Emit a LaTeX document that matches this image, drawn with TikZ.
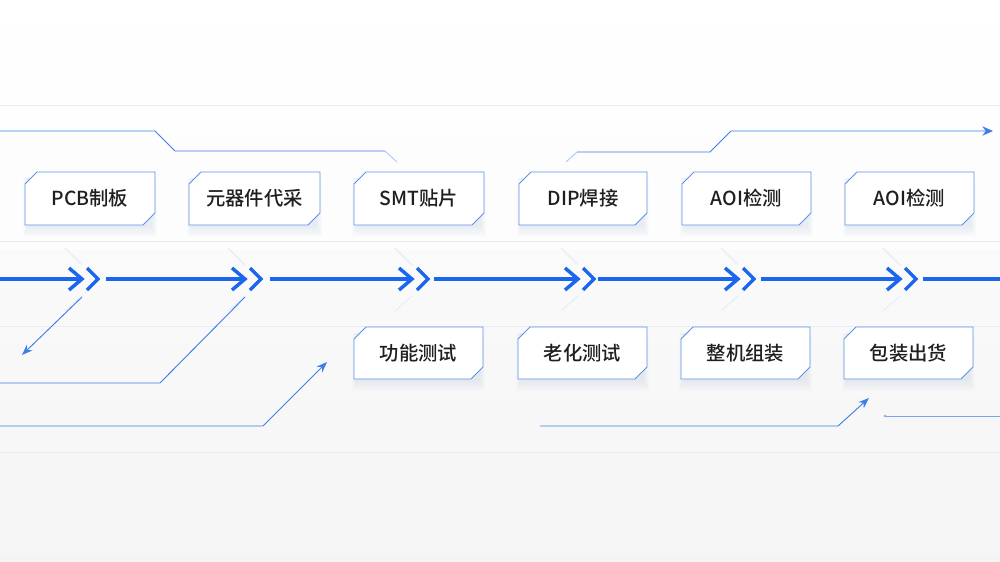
\documentclass[tikz,border=0pt]{standalone}
\usepackage{fontspec}
\setmainfont{Noto Sans CJK SC}[BoldFont={Noto Sans CJK SC Medium}]
\usetikzlibrary{arrows.meta}
\definecolor{mainblue}{HTML}{1A66EE}
\definecolor{lineblue}{HTML}{3D7FE6}
\definecolor{faint}{HTML}{E8EDF4}
\definecolor{shadowc}{HTML}{B8C6DE}
\begin{document}
\begin{tikzpicture}[x=0.75pt,y=-0.75pt,
  box/.style={draw=lineblue!85,line width=0.6pt,fill=white},
  lbl/.style={font=\fontsize{14.5pt}{16pt}\selectfont\bfseries,text=black!88},
  thin/.style={draw=lineblue,line width=0.7pt},
  main/.style={draw=mainblue,line width=2.6pt},
  tip/.style={draw=mainblue,line width=2.6pt,line join=miter,line cap=butt},
  fl/.style={draw=faint,line width=0.6pt}]
\useasboundingbox (0,0) rectangle (1000,561);
\shade[top color=white,bottom color=blue!4!gray!8] (0,0) rectangle (1000,561);
\fill[white,opacity=0.6] (0,0) rectangle (1000,250);
% faint guide lines
\foreach \y in {105,241,326,452} \draw[fl] (0,\y) -- (1000,\y);
% boxes
\foreach \n/\a/\b/\c/\d/\t in {
  b1/25/172/155/225/PCB制板, b2/189/172/320/225/元器件代采, b3/354/172/484/225/SMT贴片,
  b4/519/172/647/225/DIP焊接, b5/682/172/811/225/AOI检测, b6/845/172/974/225/AOI检测,
  b7/354/327/483/379/功能测试, b8/518/327/647/379/老化测试, b9/681/327/810/379/整机组装,
  b10/844/327/973/379/包装出货}{
  \foreach \k in {2,4,...,12}
    \fill[shadowc,opacity=0.05] (\a+4-\k/2,\b+6) rectangle (\c-4+\k/2,\d+\k);
  \path[box] (\a+12,\b) -- (\c,\b) -- (\c,\d-12) -- (\c-12,\d) -- (\a,\d) -- (\a,\b+12) -- cycle;
  \node[lbl] (\n) at ({(\a+\c)/2},{(\b+\d)/2}) {\t};}
% main arrow
\foreach \s/\e in {0/82,106/245,270/412,434/578,598/738,761/900}{
  \draw[main] (\s,279) -- (\e-3,279);
  \draw[tip] (\e-13,268) -- (\e,279) -- (\e-13,290);
  \draw[tip] (\e+5,268) -- (\e+16,279) -- (\e+5,290);
  \draw[faint,line width=0.8pt] (\e-17,248) -- (\e,265);
  \draw[faint,line width=0.8pt] (\e-17,311) -- (\e,296);}
\draw[main] (923,279) -- (1000,279);
% thin connectors
\coordinate (t0) at (0,131); \coordinate (t1) at (155,131); \coordinate (t2) at (175,151);
\coordinate (t3) at (385,151); \coordinate (t4) at (397,162);
\draw[thin] (t0) -- (t1) -- (t2) -- (t3);
\draw[lineblue!40,line width=0.7pt] (t3) -- (t4);
\coordinate (r0) at (566,162); \coordinate (r1) at (577,152); \coordinate (r2) at (710,152);
\coordinate (r3) at (731,131); \coordinate (r4) at (993,131);
\draw[lineblue!40,line width=0.7pt] (r0) -- (r1);
\draw[thin,-{Stealth[length=8pt,width=7pt]}] (r1) -- (r2) -- (r3) -- (r4);
\coordinate (l0) at (82,297); \coordinate (l1) at (22,355);
\draw[thin,-{Stealth[length=8pt,width=6pt]}] (l0) -- (l1);
\coordinate (m0) at (0,383); \coordinate (m1) at (160,383); \coordinate (m2) at (245,297);
\draw[thin] (m0) -- (m1) -- (m2);
\coordinate (n0) at (0,426); \coordinate (n1) at (263,426); \coordinate (n2) at (327,362);
\draw[thin,-{Stealth[length=8pt,width=6pt]}] (n0) -- (n1) -- (n2);
\coordinate (p0) at (540,426); \coordinate (p1) at (838,426); \coordinate (p2) at (869,398);
\draw[thin,-{Stealth[length=8pt,width=6pt]}] (p0) -- (p1) -- (p2);
\coordinate (q0) at (885,416); \coordinate (q1) at (1000,416);
\draw[lineblue!70,line width=0.6pt] (q0) -- (q1);
\fill[lineblue!60] (q0) circle (1.5);
\end{tikzpicture}
\end{document}
